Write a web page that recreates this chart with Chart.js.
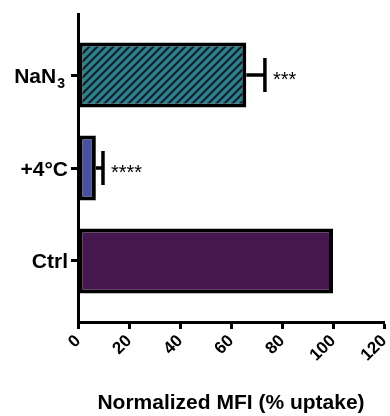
<!DOCTYPE html>
<html>
<head>
<meta charset="utf-8">
<script src="https://cdn.jsdelivr.net/npm/chart.js@4.4.1/dist/chart.umd.min.js"></script>
<style>
  body { margin: 0; background: #fff; }
  #wrap { width: 390px; height: 416px; position: relative; }
</style>
</head>
<body>
<div id="wrap"><canvas id="chart"></canvas></div>
<script>
// bottom to top, as positions 0, 1, 2 on the y axis
const categories = ['Ctrl', '+4°C', 'NaN₃'];
const uptake = [100, 7, 66];
const errTop = [100, 9.8, 73.3];
const stars = ['', '****', '***'];
const xTicks = [0, 20, 40, 60, 80, 100, 120];

const FONT = '"Liberation Sans", Arial, sans-serif';
const SUB = '₀₁₂₃₄₅₆₇₈₉';

function hatch() {
  const c = document.createElement('canvas');
  c.width = 8; c.height = 8;
  const g = c.getContext('2d');
  g.fillStyle = '#2d7f8f';
  g.fillRect(0, 0, 8, 8);
  g.strokeStyle = '#0e1e24';
  g.lineWidth = 2;
  g.beginPath();
  g.moveTo(-2, 10); g.lineTo(10, -2);
  g.moveTo(-2, 2); g.lineTo(2, -2);
  g.moveTo(6, 10); g.lineTo(10, 6);
  g.stroke();
  return g.createPattern(c, 'repeat');
}

// y labels drawn by hand so that NaN₃ gets a real subscript
const yLabels = {
  id: 'yLabels',
  afterDraw(chart) {
    const { ctx, scales: { y } } = chart;
    ctx.save();
    ctx.fillStyle = '#000';
    ctx.textBaseline = 'alphabetic';
    categories.forEach((c, i) => {
      const py = y.getPixelForValue(i) + 7.5;
      let main = c, sub = '';
      while (main.length && SUB.includes(main[main.length - 1])) {
        sub = SUB.indexOf(main[main.length - 1]) + sub;
        main = main.slice(0, -1);
      }
      let xr = y.right - 10;
      if (sub) {
        xr = y.right - 13;
        ctx.font = 'bold 14px ' + FONT;
        const w = ctx.measureText(sub).width;
        ctx.textAlign = 'left';
        ctx.fillText(sub, xr - w, py + 5);
        xr -= w + 1;
      }
      ctx.font = 'bold 21px ' + FONT;
      ctx.textAlign = 'right';
      ctx.fillText(main, xr, py);
    });
    ctx.restore();
  }
};

const errorBars = {
  id: 'errorBars',
  afterDatasetsDraw(chart) {
    const { ctx, scales: { x, y } } = chart;
    ctx.save();
    ctx.strokeStyle = '#000';
    ctx.lineWidth = 3.5;
    errTop.forEach((e, i) => {
      if (e <= uptake[i]) return;
      const py = y.getPixelForValue(i);
      const x0 = x.getPixelForValue(uptake[i]);
      const x1 = x.getPixelForValue(e);
      ctx.beginPath();
      ctx.moveTo(x0, py); ctx.lineTo(x1, py);
      ctx.moveTo(x1, py - 17); ctx.lineTo(x1, py + 17);
      ctx.stroke();
    });
    ctx.fillStyle = '#000';
    ctx.font = '20px ' + FONT;
    ctx.textBaseline = 'alphabetic';
    stars.forEach((s, i) => {
      if (!s) return;
      ctx.fillText(s, x.getPixelForValue(errTop[i]) + 8, y.getPixelForValue(i) + 10.5);
    });
    ctx.restore();
  }
};

new Chart(document.getElementById('chart'), {
  type: 'bar',
  data: {
    datasets: [{
      data: uptake.map((v, i) => ({ x: v, y: i })),
      backgroundColor: ['#46164f', '#4a519e', hatch()],
      borderColor: '#000',
      borderWidth: 4,
      borderSkipped: false,
      barPercentage: 0.7,
      categoryPercentage: 1
    }]
  },
  options: {
    indexAxis: 'y',
    responsive: true,
    maintainAspectRatio: false,
    animation: false,
    layout: { padding: { top: 14, right: 6, left: 0, bottom: 0 } },
    plugins: { legend: { display: false }, tooltip: { enabled: false } },
    scales: {
      x: {
        type: 'linear',
        min: 0, max: 120,
        afterFit: s => { s.height = 94; s.paddingLeft = 0; s.paddingRight = 0; },
        afterBuildTicks: s => { s.ticks = xTicks.map(v => ({ value: v })); },
        ticks: {
          color: '#000', maxRotation: 45, minRotation: 45, padding: 2,
          font: { family: FONT, size: 17, weight: 'bold' }
        },
        grid: { drawOnChartArea: false, drawTicks: true, tickLength: 7, tickWidth: 3, tickColor: '#000' },
        border: { display: true, width: 3, color: '#000' },
        title: {
          display: true, text: 'Normalized MFI (% uptake)', color: '#000',
          font: { family: FONT, size: 21, weight: 'bold' },
          padding: { top: 0, bottom: 0 }
        }
      },
      y: {
        type: 'linear',
        offset: false,
        min: -0.656, max: 2.656,
        afterFit: s => { s.width = 78; s.paddingTop = 0; s.paddingBottom = 0; },
        afterBuildTicks: s => { s.ticks = categories.map((c, i) => ({ value: i })); },
        ticks: {
          color: 'rgba(0,0,0,0)', padding: 3,
          font: { family: FONT, size: 20, weight: 'bold' },
          callback: v => categories[v]
        },
        grid: { offset: false, drawOnChartArea: false, drawTicks: true, tickLength: 7, tickWidth: 3, tickColor: '#000' },
        border: { display: true, width: 3, color: '#000' }
      }
    }
  },
  plugins: [errorBars, yLabels]
});
</script>
</body>
</html>
